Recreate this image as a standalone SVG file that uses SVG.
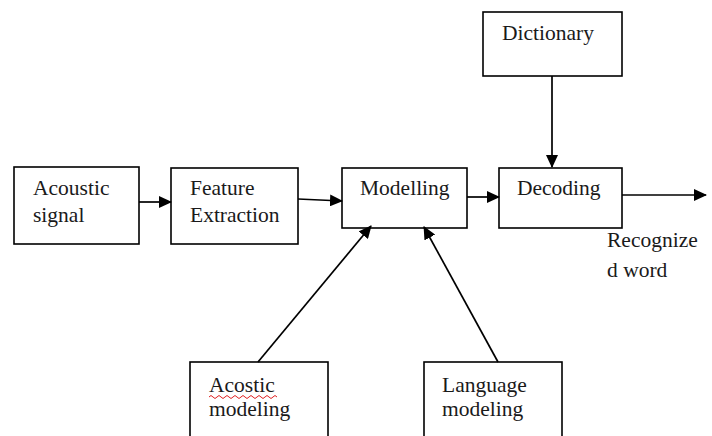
<svg xmlns="http://www.w3.org/2000/svg" width="712" height="436" viewBox="0 0 712 436">
<defs>
<marker id="ah" markerWidth="13" markerHeight="12" refX="12" refY="6" orient="auto" markerUnits="userSpaceOnUse">
<path d="M0,0 L13,6 L0,12 Z" fill="#000"/>
</marker>
<style>
.box{fill:#fff;stroke:#000;stroke-width:1.6}
.t{font-family:'Liberation Serif','Times New Roman',serif;font-size:21.5px;fill:#1a1a1a}
.c{fill:none;stroke:#000;stroke-width:1.7;marker-end:url(#ah)}
</style>
</defs>
<rect width="712" height="436" fill="#fff"/>
<g id="acoustic-signal"><rect class="box" x="14" y="167" width="125" height="77"/><text class="t" x="33" y="195">Acoustic</text><text class="t" x="33" y="222">signal</text></g>
<g id="feature-extraction"><rect class="box" x="171" y="168" width="127" height="76"/><text class="t" x="190" y="195">Feature</text><text class="t" x="190" y="222">Extraction</text></g>
<g id="modelling"><rect class="box" x="342" y="168" width="125" height="60"/><text class="t" x="360" y="195">Modelling</text></g>
<g id="decoding"><rect class="box" x="499" y="168" width="123" height="60"/><text class="t" x="517" y="195">Decoding</text></g>
<g id="dictionary"><rect class="box" x="483" y="12" width="139" height="64"/><text class="t" x="502" y="40">Dictionary</text></g>
<g id="acostic-modeling"><rect class="box" x="190" y="362" width="138" height="90"/><text class="t" x="209" y="392">Acostic</text><path d="M209,397 q2,-3 4,0 t4,0 t4,0 t4,0 t4,0 t4,0 t4,0 t4,0 t4,0 t4,0 t4,0 t4,0 t4,0 t4,0 t4,0 t4,0 t4,0" fill="none" stroke="#e02020" stroke-width="1"/><text class="t" x="209" y="416">modeling</text></g>
<g id="language-modeling"><rect class="box" x="424" y="362" width="138" height="90"/><text class="t" x="442" y="392">Language</text><text class="t" x="442" y="416">modeling</text></g>
<g id="recognized-word"><text class="t" x="607" y="247">Recognize</text><text class="t" x="607" y="277">d word</text></g>
<g id="connectors">
<line class="c" x1="139" y1="202" x2="171" y2="202"/>
<line class="c" x1="298" y1="199" x2="342" y2="201"/>
<line class="c" x1="467" y1="197" x2="499" y2="197"/>
<line class="c" x1="552" y1="76" x2="552" y2="167"/>
<line class="c" x1="622" y1="195" x2="706" y2="195"/>
<line class="c" x1="258" y1="362" x2="371" y2="226"/>
<line class="c" x1="498" y1="362" x2="424" y2="227"/>
</g>
</svg>
